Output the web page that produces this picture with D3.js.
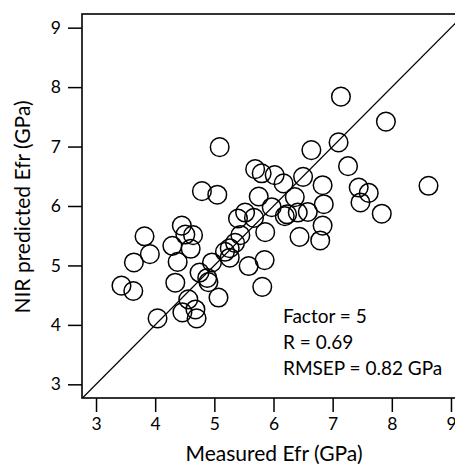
<!DOCTYPE html>
<html>
<head>
<meta charset="utf-8">
<script src="https://cdn.jsdelivr.net/npm/d3@7"></script>
<style>
  body { margin: 0; background: #fff; }
  text { font-family: Lato, "Open Sans", sans-serif; fill: #000; }
</style>
</head>
<body>
<div id="chart"></div>
<script>
// measured Efr (x) and NIR predicted Efr (y), GPa
let measured = [7.14, 7.90, 5.09, 7.10, 6.64, 7.26, 5.69, 5.80, 6.02, 6.50,
  6.17, 6.83, 8.62, 7.44, 7.61, 4.79, 5.05, 5.75, 6.36, 7.47,
  6.85, 5.97, 6.58, 6.41, 6.23, 6.19, 7.83, 5.52, 5.40, 5.67,
  4.45, 6.83, 3.82, 4.51, 4.64, 5.86, 5.44, 6.44, 6.79, 4.29,
  4.60, 5.35, 5.26, 3.91, 5.18, 5.26, 3.64, 4.38, 5.85, 4.96,
  5.58, 4.75, 4.88, 4.90, 3.43, 4.34, 3.63, 5.81, 4.56, 5.07,
  4.68, 4.46, 4.04, 4.70];
let predicted = [7.84, 7.42, 6.99, 7.07, 6.94, 6.67, 6.62, 6.55, 6.52, 6.49,
  6.38, 6.35, 6.34, 6.31, 6.22, 6.25, 6.19, 6.16, 6.15, 6.06,
  6.03, 5.98, 5.90, 5.89, 5.86, 5.83, 5.87, 5.89, 5.79, 5.80,
  5.67, 5.67, 5.49, 5.52, 5.51, 5.56, 5.51, 5.48, 5.42, 5.33,
  5.28, 5.38, 5.29, 5.19, 5.23, 5.13, 5.05, 5.06, 5.09, 5.05,
  4.99, 4.88, 4.79, 4.72, 4.66, 4.71, 4.57, 4.64, 4.43, 4.46,
  4.26, 4.21, 4.11, 4.11];
let tickValues = [3, 4, 5, 6, 7, 8, 9];
let statLines = ["Factor = 5", "R = 0.69", "RMSEP = 0.82 GPa"];

var margin = {top: 14, left: 82},
    width = 383, height = 384;

var svg = d3.select("#chart").append("svg")
    .attr("width", 455).attr("height", 467);
var g = svg.append("g")
    .attr("transform", "translate(" + margin.left + "," + margin.top + ")");

var x = d3.scaleLinear().domain([2.763, 9.237]).range([0, width]);
var y = d3.scaleLinear().domain([2.77, 9.23]).range([height, 0]);

// axes
var xAxis = g.append("g")
    .attr("transform", "translate(0," + height + ")")
    .call(d3.axisBottom(x).tickValues(tickValues).tickSize(14).tickPadding(6).tickFormat(d3.format("d")));
var yAxis = g.append("g")
    .call(d3.axisLeft(y).tickValues(tickValues).tickSize(14).tickPadding(7).tickFormat(d3.format("d")));
[xAxis, yAxis].forEach(a => {
  a.select(".domain").remove();
  a.selectAll("line").attr("stroke", "#000").attr("stroke-width", 1.5);
  a.selectAll("text").style("font-size", "17.5px").style("font-family", "Lato, sans-serif");
});

// 1:1 line
var clip = g.append("clipPath").attr("id", "clip")
  .append("rect").attr("width", width).attr("height", height);
g.append("line")
  .attr("clip-path", "url(#clip)")
  .attr("x1", x(2.77)).attr("y1", y(2.77))
  .attr("x2", x(9.3)).attr("y2", y(9.3))
  .attr("stroke", "#000").attr("stroke-width", 1.3);

// points
g.append("g").selectAll("circle")
  .data(measured)
  .enter().append("circle")
    .attr("cx", (d, i) => x(d))
    .attr("cy", (d, i) => y(predicted[i]))
    .attr("r", 9.3)
    .attr("fill", "none")
    .attr("stroke", "#000")
    .attr("stroke-width", 1.5);

// frame
g.append("rect")
  .attr("width", width).attr("height", height)
  .attr("fill", "none").attr("stroke", "#000").attr("stroke-width", 1.6);

// stats text
g.selectAll(".stat").data(statLines).enter().append("text")
  .attr("class", "stat")
  .attr("x", 201)
  .attr("y", (d, i) => 309 + i * 26)
  .style("font-size", "19px")
  .text(d => d);

// axis titles
svg.append("text")
  .attr("x", margin.left + 192).attr("y", 461)
  .attr("text-anchor", "middle")
  .style("font-size", "21px")
  .text("Measured Efr (GPa)");
svg.append("text")
  .attr("transform", "translate(30,207) rotate(-90)")
  .attr("text-anchor", "middle")
  .style("font-size", "21px")
  .text("NIR predicted Efr (GPa)");
</script>
</body>
</html>
